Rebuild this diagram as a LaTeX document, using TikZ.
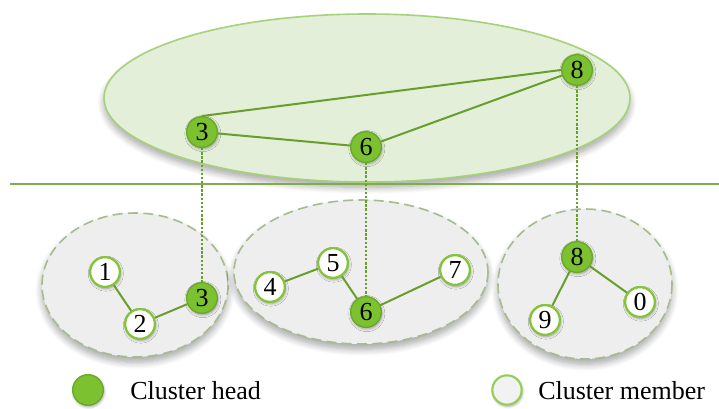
\documentclass[tikz,border=0pt]{standalone}
\usepackage{fontspec}
\setmainfont{Liberation Serif}
\usetikzlibrary{shadows.blur}

\definecolor{headgreen}{HTML}{7CC130}
\definecolor{headrim}{HTML}{6AA828}
\definecolor{memberrim}{HTML}{84C43A}
\definecolor{edgegreen}{HTML}{6A9E2C}
\definecolor{topfill}{HTML}{E3EFD9}
\definecolor{toprim}{HTML}{A6D27A}
\definecolor{lowfill}{HTML}{EEEEEE}
\definecolor{lowrim}{HTML}{A5BC90}
\definecolor{keyfill}{HTML}{F2F2F2}

\begin{document}
\begin{tikzpicture}[x=0.75pt,y=-0.75pt,
  softshadow/.style={blur shadow={shadow xshift=0.6pt, shadow yshift=-1.2pt,
      shadow blur steps=5, shadow blur radius=2pt, shadow opacity=35}},
  cloudshadow/.style={blur shadow={shadow xshift=0pt, shadow yshift=-4pt,
      shadow blur steps=8, shadow blur radius=5pt, shadow opacity=35}},
  topcloud/.style={fill=topfill, draw=toprim, line width=1.2pt, cloudshadow},
  lowcloud/.style={fill=lowfill, draw=lowrim, line width=1.2pt,
      dash pattern=on 7.5pt off 4pt, cloudshadow},
  head/.style={circle, minimum size=23pt, inner sep=0pt, fill=headgreen,
      draw=headrim, line width=1pt, font=\fontsize{19.5}{19.5}\selectfont, softshadow},
  member/.style={circle, minimum size=22.3pt, inner sep=0pt, fill=white,
      draw=memberrim, line width=1.7pt, font=\fontsize{19.5}{19.5}\selectfont, softshadow},
  link/.style={draw=edgegreen, line width=1.5pt},
  uplink/.style={draw=edgegreen, line width=1.8pt, dash pattern=on 1.8pt off 1.3pt},
  keytext/.style={anchor=base west, inner sep=0pt, font=\fontsize{19.5}{19.5}\selectfont}
]
\useasboundingbox (0,0) rectangle (719,408);

% clusters
\path[topcloud] (367,98) ellipse [x radius=263, y radius=84];
\path[lowcloud] (135,285) ellipse [x radius=93, y radius=72];
\path[lowcloud] (361,272) ellipse [x radius=127, y radius=72];
\path[lowcloud] (585,284) ellipse [x radius=87, y radius=75];

% level divider
\coordinate (divL) at (10,184);
\coordinate (divR) at (719,184);
\draw[draw=edgegreen!85, line width=1.1pt] (divL) -- (divR);

% upper level: cluster heads
\node[head] (t3) at (202,132) {3};
\node[head] (t6) at (366,147) {6};
\node[head] (t8) at (577,70) {8};

% lower level
\node[member] (n1) at (105,272) {1};
\node[member] (n2) at (140,324) {2};
\node[head]   (b3) at (202,298) {3};
\node[member] (n4) at (270,287) {4};
\node[member] (n5) at (333,263) {5};
\node[head]   (b6) at (366,312) {6};
\node[member] (n7) at (455,270) {7};
\node[head]   (b8) at (577,257) {8};
\node[member] (n9) at (545,320) {9};
\node[member] (n0) at (640,302) {0};

% links
\draw[link] (t3) -- (t6);
\draw[link] (t3.north) -- (t8.west);
\draw[link] (t6) -- (t8);
\draw[link] (n1) -- (n2);
\draw[link] (n2) -- (b3);
\draw[link] (n4) -- (n5);
\draw[link] (n5) -- (b6);
\draw[link] (b6) -- (n7);
\draw[link] (b8) -- (n9);
\draw[link] (b8) -- (n0);

% vertical correspondence
\draw[uplink] (t3) -- (b3);
\draw[uplink] (t6) -- (b6);
\draw[uplink] (t8) -- (b8);

% key
\node[circle, minimum size=23pt, inner sep=0pt, fill=headgreen, draw=headrim,
      line width=1pt, softshadow] (khead) at (88,390) {};
\node[keytext] (kheadtxt) at (130,399) {Cluster head};
\node[circle, minimum size=22pt, inner sep=0pt, fill=keyfill, draw=memberrim!85,
      line width=1.6pt, softshadow] (kmember) at (507,390) {};
\node[keytext] (kmembertxt) at (538,399) {Cluster member};
\end{tikzpicture}
\end{document}
